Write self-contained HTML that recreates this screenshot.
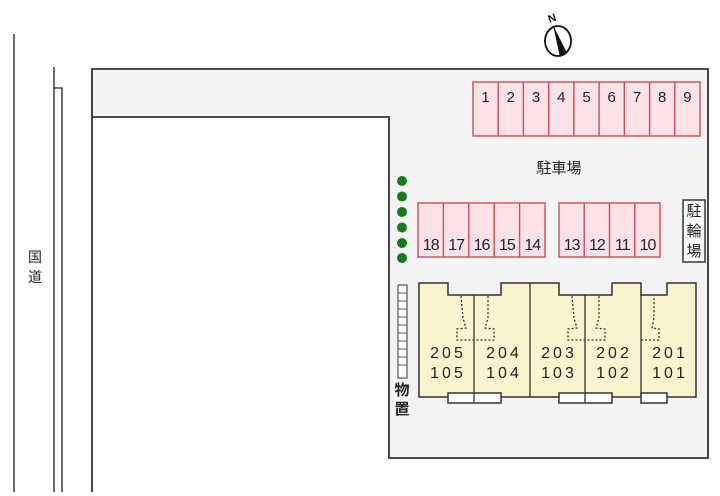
<!DOCTYPE html>
<html><head><meta charset="utf-8"><style>
html,body{margin:0;padding:0;background:#fff;}
svg{display:block;}
text{font-family:"Liberation Sans","Noto Sans CJK JP",sans-serif;}
</style></head><body>
<svg width="720" height="496" viewBox="0 0 720 496" xmlns="http://www.w3.org/2000/svg">
<line x1="14" y1="34" x2="14" y2="492" stroke="#222" stroke-width="1.3"/>
<line x1="54" y1="67" x2="54" y2="492" stroke="#222" stroke-width="1.3"/>
<polyline points="54,88 62,88 62,492" fill="none" stroke="#222" stroke-width="1.3"/>
<text x="35" y="262" font-size="14" text-anchor="middle" fill="#222">国</text>
<text x="35" y="282" font-size="14" text-anchor="middle" fill="#222">道</text>
<polygon points="92,69 708,69 708,458 389,458 389,117 92,117" fill="#f4f4f4" stroke="#333" stroke-width="1.8"/>
<line x1="92" y1="117" x2="92" y2="492" stroke="#333" stroke-width="1.8"/>
<ellipse cx="558" cy="41" rx="13" ry="15" fill="#fff" stroke="#111" stroke-width="1.8"/>
<polygon points="554,27 567,53 560,55" fill="#111"/>
<line x1="554" y1="27" x2="560" y2="55" stroke="#111" stroke-width="1"/>
<text x="552" y="22" font-size="11" font-weight="bold" text-anchor="middle" fill="#111" transform="rotate(-20 552 18)">N</text>
<rect x="473" y="82" width="227" height="54" fill="#fde3e8" stroke="#d0485a" stroke-width="1.4"/>
<g stroke="#d0485a" stroke-width="1.4">
<line x1="498.2" y1="82" x2="498.2" y2="136"/><line x1="523.4" y1="82" x2="523.4" y2="136"/><line x1="548.7" y1="82" x2="548.7" y2="136"/><line x1="573.9" y1="82" x2="573.9" y2="136"/><line x1="599.1" y1="82" x2="599.1" y2="136"/><line x1="624.3" y1="82" x2="624.3" y2="136"/><line x1="649.6" y1="82" x2="649.6" y2="136"/><line x1="674.8" y1="82" x2="674.8" y2="136"/>
</g>
<g font-size="15" fill="#222" text-anchor="middle">
<text x="485.6" y="102">1</text><text x="510.8" y="102">2</text><text x="536" y="102">3</text><text x="561.3" y="102">4</text><text x="586.5" y="102">5</text><text x="611.7" y="102">6</text><text x="637" y="102">7</text><text x="662.2" y="102">8</text><text x="687.4" y="102">9</text>
</g>
<text x="559" y="173" font-size="15" text-anchor="middle" fill="#222">駐車場</text>
<rect x="418" y="203" width="127" height="54" fill="#fde3e8" stroke="#d0485a" stroke-width="1.4"/>
<rect x="559" y="203" width="101" height="54" fill="#fde3e8" stroke="#d0485a" stroke-width="1.4"/>
<g stroke="#d0485a" stroke-width="1.4">
<line x1="443.4" y1="203" x2="443.4" y2="257"/><line x1="468.8" y1="203" x2="468.8" y2="257"/><line x1="494.2" y1="203" x2="494.2" y2="257"/><line x1="519.6" y1="203" x2="519.6" y2="257"/>
<line x1="584.2" y1="203" x2="584.2" y2="257"/><line x1="609.5" y1="203" x2="609.5" y2="257"/><line x1="634.8" y1="203" x2="634.8" y2="257"/>
</g>
<g font-size="16" fill="#222" text-anchor="middle" letter-spacing="-1">
<text x="430.7" y="250">18</text><text x="456.1" y="250">17</text><text x="481.5" y="250">16</text><text x="506.9" y="250">15</text><text x="532.3" y="250">14</text>
<text x="571.6" y="250">13</text><text x="596.9" y="250">12</text><text x="622.2" y="250">11</text><text x="647.5" y="250">10</text>
</g>
<g fill="#1a7a1a">
<circle cx="402" cy="181" r="5"/><circle cx="402" cy="196.5" r="5"/><circle cx="402" cy="212" r="5"/><circle cx="402" cy="227.5" r="5"/><circle cx="402" cy="243" r="5"/><circle cx="402" cy="258" r="5"/>
</g>
<rect x="683" y="200" width="22" height="62" fill="#fff" stroke="#333" stroke-width="1.5"/>
<g font-size="15" text-anchor="middle" fill="#222"><text x="694" y="216">駐</text><text x="694" y="236">輪</text><text x="694" y="256">場</text></g>
<rect x="398" y="285" width="9" height="93" fill="#fff" stroke="#333" stroke-width="1"/>
<g stroke="#333" stroke-width="0.8">
<line x1="398" y1="293" x2="407" y2="293"/><line x1="398" y1="301" x2="407" y2="301"/><line x1="398" y1="309" x2="407" y2="309"/><line x1="398" y1="317" x2="407" y2="317"/><line x1="398" y1="325" x2="407" y2="325"/><line x1="398" y1="333" x2="407" y2="333"/><line x1="398" y1="341" x2="407" y2="341"/><line x1="398" y1="349" x2="407" y2="349"/><line x1="398" y1="357" x2="407" y2="357"/><line x1="398" y1="365" x2="407" y2="365"/>
</g>
<g font-size="15" text-anchor="middle" fill="#222" font-weight="bold"><text x="402" y="395">物</text><text x="402" y="414">置</text></g>
<polygon points="419,283 448,283 448,295 501,295 501,283 559,283 559,295 612,295 612,283 641,283 641,295 667,295 667,283 696,283 696,397 419,397" fill="#faf5cf" stroke="#333" stroke-width="1.5"/>
<g stroke="#333" stroke-width="1.3">
<line x1="474" y1="295" x2="474" y2="397"/><line x1="530" y1="283" x2="530" y2="397"/><line x1="585" y1="295" x2="585" y2="397"/><line x1="641" y1="295" x2="641" y2="397"/>
</g>
<g fill="none" stroke="#333" stroke-width="1.3" stroke-dasharray="2,2">
<polyline points="461,296 463,318 466,328 457,329 457,340 494,340 494,329 485,328 488,318 488,296"/>
<polyline points="572,296 574,318 577,328 568,329 568,340 605,340 605,329 596,328 599,318 599,296"/>
<polyline points="641,340 659,340 659,329 652,328 654,318 654,296"/>
</g>
<g font-size="16" fill="#222" text-anchor="middle" letter-spacing="3">
<text x="448" y="358">205</text><text x="504" y="358">204</text><text x="559" y="358">203</text><text x="614" y="358">202</text><text x="670" y="358">201</text>
<text x="448" y="378">105</text><text x="504" y="378">104</text><text x="559" y="378">103</text><text x="614" y="378">102</text><text x="670" y="378">101</text>
</g>
<g fill="#fff" stroke="#333" stroke-width="1.5">
<rect x="448" y="393" width="53" height="10"/><rect x="559" y="393" width="53" height="10"/><rect x="641" y="393" width="26" height="10"/>
</g>
<line x1="474" y1="393" x2="474" y2="403" stroke="#333" stroke-width="1.3"/>
<line x1="585" y1="393" x2="585" y2="403" stroke="#333" stroke-width="1.3"/>
</svg>
</body></html>
